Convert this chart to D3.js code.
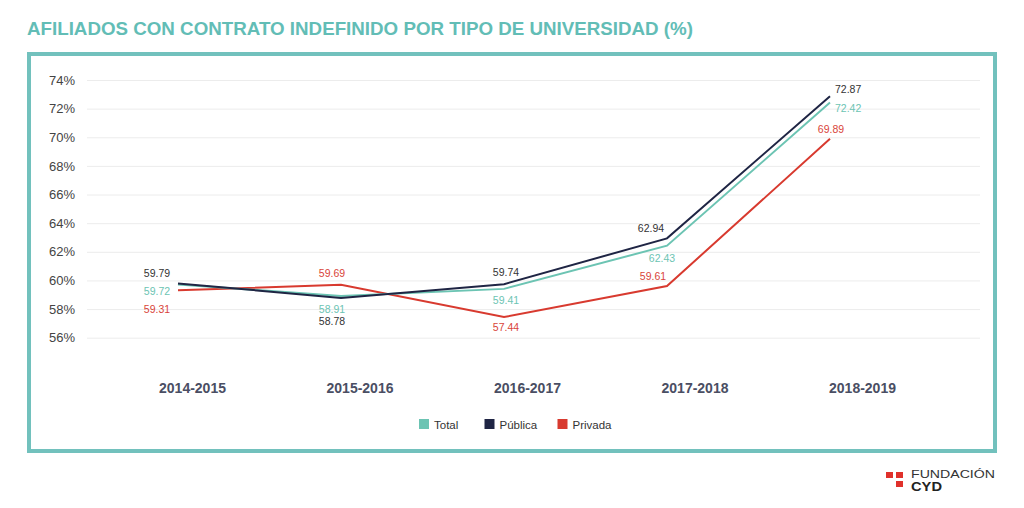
<!DOCTYPE html>
<html>
<head>
<meta charset="utf-8">
<script src="https://cdn.jsdelivr.net/npm/d3@7"></script>
<style>
  body { margin: 0; background: #fff; }
  svg { font-family: "Liberation Sans", Arial, sans-serif; }
</style>
</head>
<body>
<div id="chart"></div>
<script>
// data
const years = ["2014-2015", "2015-2016", "2016-2017", "2017-2018", "2018-2019"];
const total = [59.72, 58.91, 59.41, 62.43, 72.42];
const publica = [59.79, 58.78, 59.74, 62.94, 72.87];
const privada = [59.31, 59.69, 57.44, 59.61, 69.89];
const yTicks = [56, 58, 60, 62, 64, 66, 68, 70, 72, 74];

const W = 1024, H = 508;
const svg = d3.select("#chart").append("svg")
    .attr("width", W)
    .attr("height", H);

// title
svg.append("text")
    .attr("x", 27)
    .attr("y", 35)
    .attr("fill", "#62bdb6")
    .attr("font-size", 18.5)
    .attr("font-weight", "bold")
    .attr("textLength", 666)
    .attr("lengthAdjust", "spacingAndGlyphs")
    .text("AFILIADOS CON CONTRATO INDEFINIDO POR TIPO DE UNIVERSIDAD (%)");

// frame
svg.append("rect")
    .attr("x", 29).attr("y", 54)
    .attr("width", 966).attr("height", 397)
    .attr("fill", "none")
    .attr("stroke", "#72c1bd")
    .attr("stroke-width", 4);

let y = d3.scaleLinear().domain([56, 74]).range([337.7, 80]);
let x = d3.scalePoint().domain(years).range([178, 830]);
let xLab = d3.scalePoint().domain(years).range([192, 862]);

// grid + y labels
let yAxis = d3.axisLeft(y).tickValues(yTicks).tickSize(-893).tickFormat(d => d + "%");
let gy = svg.append("g").attr("transform", "translate(87,0)").call(yAxis);
gy.select(".domain").remove();
gy.selectAll(".tick line").attr("stroke", "#ececec").attr("stroke-width", 1);
gy.selectAll(".tick text")
    .attr("x", -12)
    .attr("fill", "#444")
    .attr("font-size", 13)
    .attr("font-family", "Liberation Sans, Arial, sans-serif");

// x labels
let xAxis = d3.axisBottom(xLab).tickSize(0);
let gx = svg.append("g").attr("transform", "translate(0,381)").call(xAxis);
gx.select(".domain").remove();
gx.selectAll(".tick text")
    .attr("dy", 0)
    .attr("y", 12)
    .attr("fill", "#4a4e63")
    .attr("font-size", 14)
    .attr("font-weight", "bold")
    .attr("font-family", "Liberation Sans, Arial, sans-serif");

const series = [
  {name: "Total", values: total, color: "#6cc4b3", label: "#6cc4b3",
   offs: [[-21, 7], [-9, 13], [2, 11], [-5, 12], [18, 5]]},
  {name: "Pública", values: publica, color: "#1f2544", label: "#333",
   offs: [[-21, -10], [-9, 23], [2, -12], [-16, -10], [18, -7]]},
  {name: "Privada", values: privada, color: "#d83a2f", label: "#d9443a",
   offs: [[-21, 19], [-9, -12], [2, 10], [-14, -10], [1, -10]]}
];

let line = d3.line()
    .x((d, i) => x(years[i]))
    .y(d => y(d));

// draw order: privada, total, publica on top
[series[2], series[0], series[1]].forEach(s => {
  svg.append("path")
      .datum(s.values)
      .attr("d", line)
      .attr("fill", "none")
      .attr("stroke", s.color)
      .attr("stroke-width", 2)
      .attr("stroke-linejoin", "miter");
});

series.forEach(s => {
  svg.selectAll(null)
      .data(s.values)
      .enter()
      .append("text")
      .attr("x", (d, i) => x(years[i]) + s.offs[i][0])
      .attr("y", (d, i) => y(d) + s.offs[i][1] + 4)
      .attr("text-anchor", (d, i) => i == 4 && s.name != "Privada" ? "start" : "middle")
      .attr("dx", (d, i) => i == 4 && s.name != "Privada" ? -13 : 0)
      .attr("fill", s.label)
      .attr("font-size", 10.5)
      .text(d => d.toFixed(2));
});

// legend
let legX = [419, 484.5, 557.5];
series.forEach((s, i) => {
  let g = svg.append("g").attr("transform", "translate(" + legX[i] + ",419)");
  g.append("rect").attr("width", 10).attr("height", 10).attr("fill", s.color);
  g.append("text").attr("x", 15).attr("y", 9.5)
      .attr("font-size", 11.5).attr("fill", "#333").text(s.name);
});

// logo
let logo = svg.append("g").attr("transform", "translate(886,472)");
[[0, 0], [10, 0], [10, 9]].forEach(p => {
  logo.append("rect").attr("x", p[0]).attr("y", p[1])
      .attr("width", 7).attr("height", 6).attr("fill", "#e0312b");
});
logo.append("text").attr("x", 25).attr("y", 5.5).attr("font-size", 11)
    .attr("fill", "#333").attr("textLength", 84).attr("lengthAdjust", "spacingAndGlyphs")
    .text("FUNDACIÓN");
logo.append("text").attr("x", 25).attr("y", 19).attr("font-size", 12)
    .attr("font-weight", "bold").attr("fill", "#222")
    .attr("textLength", 31).attr("lengthAdjust", "spacingAndGlyphs")
    .text("CYD");
</script>
</body>
</html>
